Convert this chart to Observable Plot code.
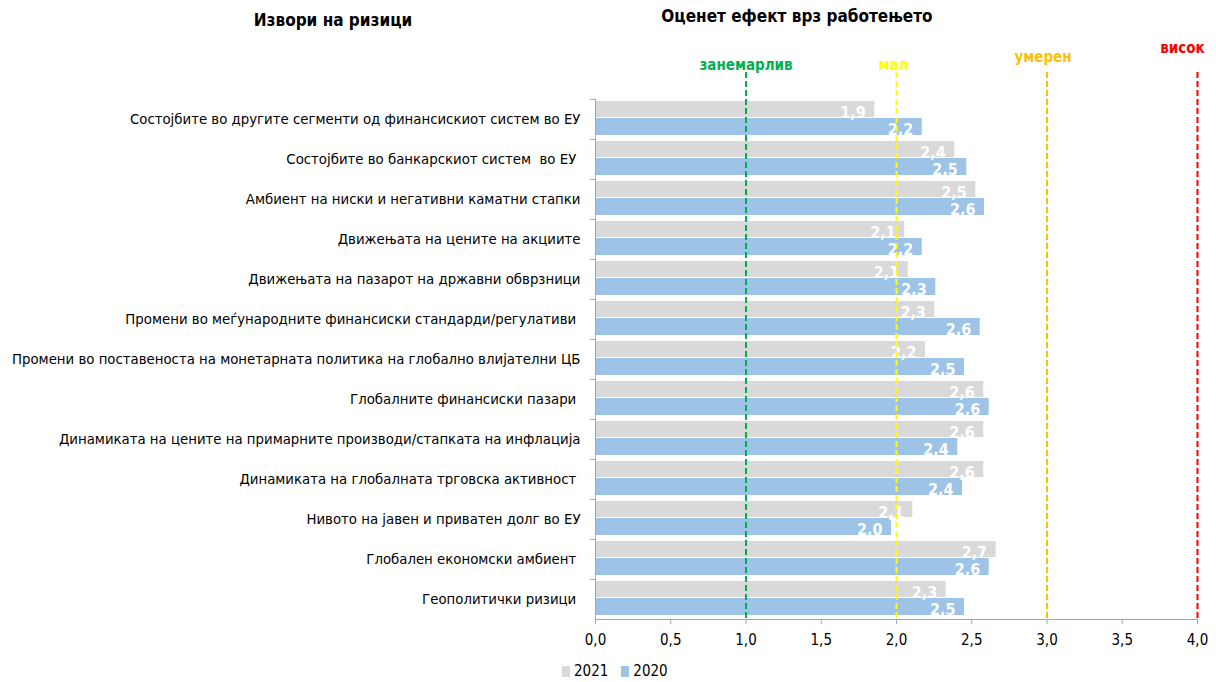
<!DOCTYPE html>
<html><head><meta charset="utf-8">
<script src="https://cdn.jsdelivr.net/npm/d3@7"></script>
<script src="https://cdn.jsdelivr.net/npm/@observablehq/plot@0.6"></script>
<style>
body{margin:0;background:#fff;font-family:"DejaVu Sans Condensed","DejaVu Sans",sans-serif;}
#wrap{position:relative;width:1216px;height:682px;overflow:hidden;}
.title{position:absolute;font-weight:bold;font-size:17px;color:#000;transform:translateX(-50%);white-space:nowrap;}
#legend{position:absolute;left:562px;top:662px;font-size:15px;display:flex;align-items:center;color:#000;}
.sw{display:inline-block;width:8px;height:11px;margin-right:4px;}
.item{display:flex;align-items:center;margin-right:13px;}
svg text{white-space:pre;}
</style></head><body>
<div id="wrap">
<div class="title" style="left:333px;top:10px">Извори на ризици</div>
<div class="title" style="left:797px;top:6px">Оценет ефект врз работењето</div>
<div id="chart"></div>
<div id="legend"></div>
</div>
<script>
const categories = [
  "Состојбите во другите сегменти од финансискиот систем во ЕУ",
  "Состојбите во банкарскиот систем  во ЕУ ",
  "Амбиент на ниски и негативни каматни стапки",
  "Движењата на цените на акциите",
  "Движењата на пазарот на државни обврзници",
  "Промени во меѓународните финансиски стандарди/регулативи ",
  "Промени во поставеноста на монетарната политика на глобално влијателни ЦБ",
  "Глобалните финансиски пазари ",
  "Динамиката на цените на примарните производи/стапката на инфлација",
  "Динамиката на глобалната трговска активност ",
  "Нивото на јавен и приватен долг во ЕУ",
  "Глобален економски амбиент ",
  "Геополитички ризици "
];
const values2021 = [1.856, 2.387, 2.527, 2.055, 2.078, 2.255, 2.193, 2.580, 2.580, 2.580, 2.108, 2.662, 2.330];
const values2020 = [2.171, 2.467, 2.585, 2.171, 2.261, 2.556, 2.452, 2.616, 2.407, 2.439, 1.967, 2.616, 2.452];
const seriesNames = ["2021", "2020"];
const seriesColors = ["#D9D9D9", "#9DC3E6"];
const levelNames = ["занемарлив", "мал", "умерен", "висок"];
const levelValues = [1, 2, 3, 4];
const levelColors = ["#00B050", "#FFFF00", "#FFC000", "#FF0000"];
const xTicks = [0, 0.5, 1, 1.5, 2, 2.5, 3, 3.5, 4];

const fmt = v => d3.format(".1f")(v).replace(".", ",");
const rows2021 = categories.map((c, i) => ({category: c, value: values2021[i]}));
const rows2020 = categories.map((c, i) => ({category: c, value: values2020[i]}));
const levels = levelNames.map((n, i) => ({name: n, value: levelValues[i], color: levelColors[i]}));
const levelOffsets = [[0, -13], [-3, -13], [-4, -21], [-15, -30]];
const axisGray = "#A6A6A6";

const chart = Plot.plot({
  width: 1216,
  height: 682,
  marginLeft: 595,
  marginRight: 19,
  marginTop: 72,
  marginBottom: 63,
  style: {fontFamily: '"DejaVu Sans Condensed","DejaVu Sans",sans-serif', background: "#fff", color: "#000"},
  x: {domain: [0, 4], label: null},
  y: {domain: categories, range: [99, 619], padding: 0, label: null},
  marks: [
    Plot.barX(rows2021, {x: "value", y: "category", fill: seriesColors[0], insetTop: 2, insetBottom: 22}),
    Plot.barX(rows2020, {x: "value", y: "category", fill: seriesColors[1], insetTop: 19, insetBottom: 4}),
    Plot.text(rows2021, {x: "value", y: "category", text: d => fmt(d.value), textAnchor: "end", dx: -9, dy: -7, fill: "#fff", fontWeight: "bold", fontSize: 16}),
    Plot.text(rows2020, {x: "value", y: "category", text: d => fmt(d.value), textAnchor: "end", dx: -9, dy: 10, fill: "#fff", fontWeight: "bold", fontSize: 16}),
    ...levels.map((l, i) => Plot.ruleX([l], {x: "value", stroke: l.color, strokeWidth: 2, strokeDasharray: "6,3"})),
    ...levels.map((l, i) => Plot.text([l], {x: "value", text: "name", frameAnchor: "top", fill: l.color, fontWeight: "bold", fontSize: 15, dx: levelOffsets[i][0], dy: levelOffsets[i][1]})),
    Plot.ruleX([0], {stroke: axisGray, insetTop: 27}),
    Plot.ruleY([categories[categories.length - 1]], {dy: 20, stroke: axisGray}),
    Plot.axisY({tickSize: 0, tickPadding: 15, fontSize: 14.8, fill: "#000", label: null}),
    Plot.axisY({tickSize: 5, tickFormat: () => "", dy: -20, stroke: axisGray, label: null}),
    Plot.axisX({ticks: xTicks, tickSize: 5, tickPadding: 10, tickFormat: fmt, fontSize: 15, fill: "#000", stroke: axisGray, label: null})
  ]
});
document.getElementById("chart").appendChild(chart);

const legend = document.getElementById("legend");
seriesNames.forEach((n, i) => {
  const item = document.createElement("span");
  item.className = "item";
  item.innerHTML = `<span class="sw" style="background:${seriesColors[i]}"></span>${n}`;
  legend.appendChild(item);
});
</script>
</body></html>
